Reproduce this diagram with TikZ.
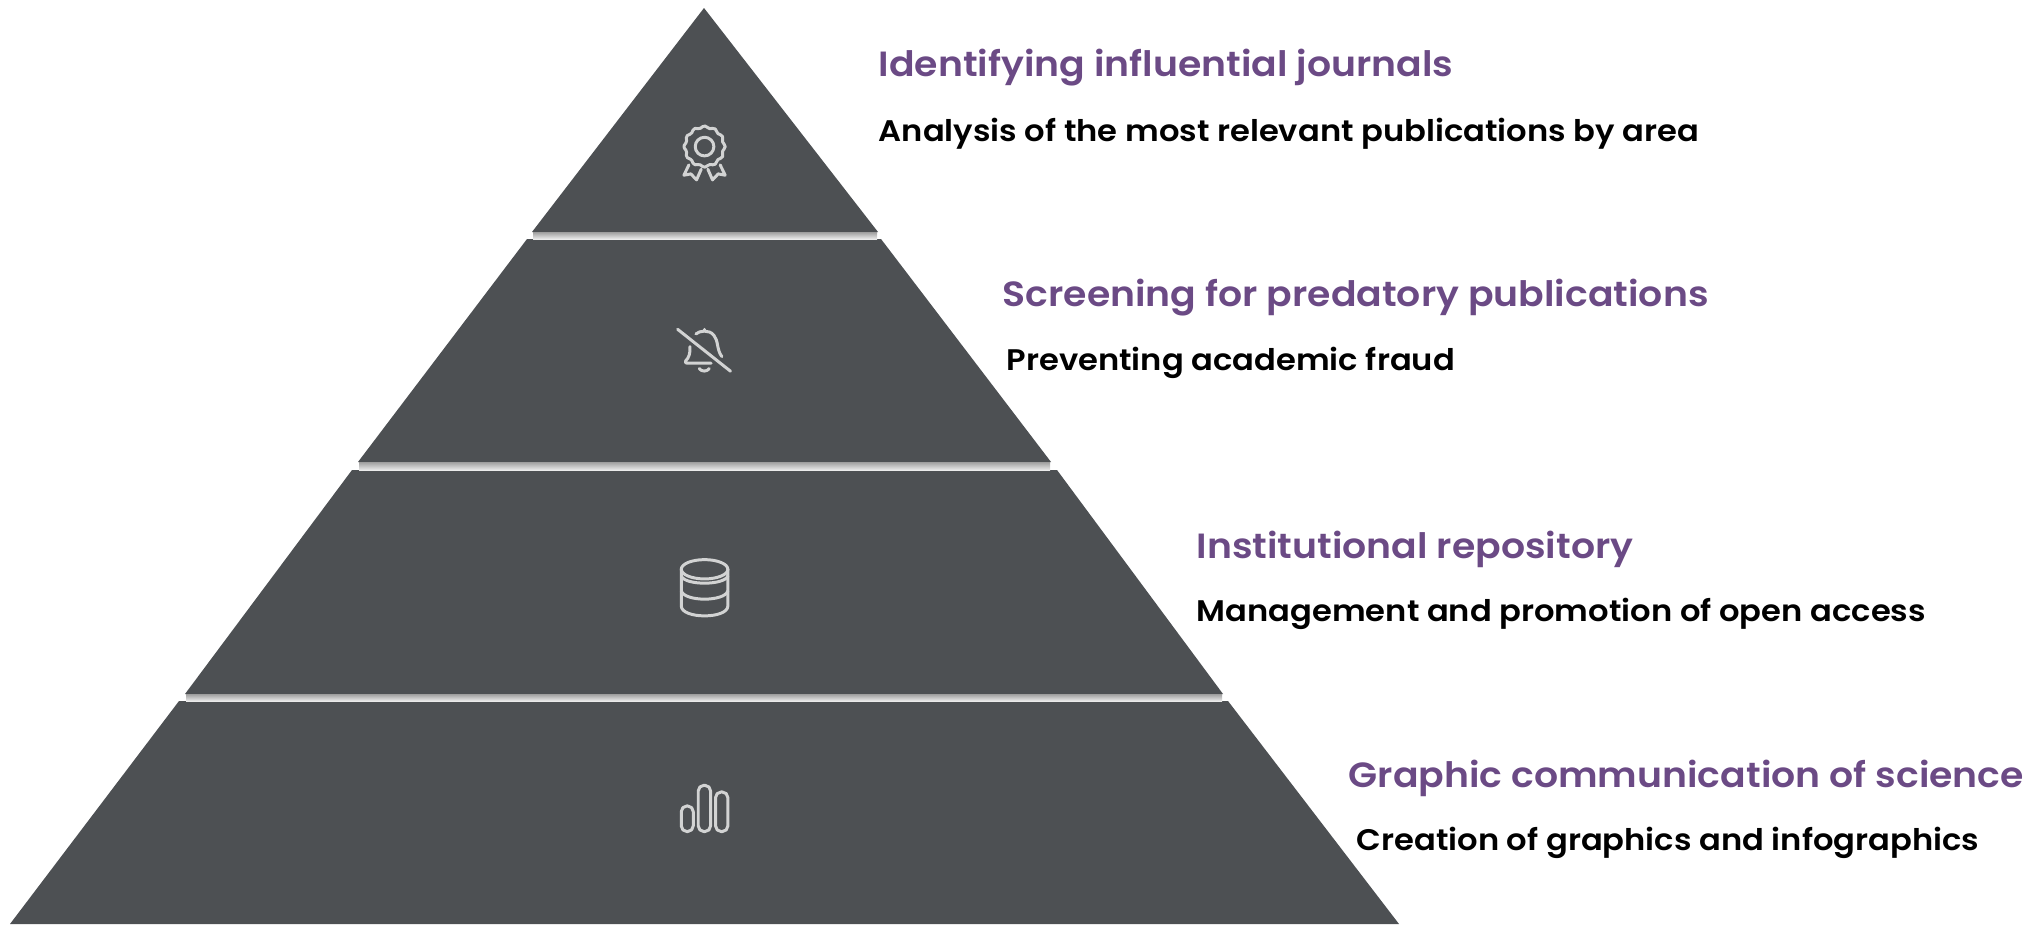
\documentclass[tikz,border=0pt]{standalone}
\usepackage{fontspec}
\setmainfont{Poppins}[UprightFont=* Medium,BoldFont=* SemiBold,FakeStretch=1.08]
\definecolor{slab}{HTML}{4D5053}
\definecolor{head}{HTML}{6B4A85}
\definecolor{glyph}{HTML}{D2D3D3}
\tikzset{
	layer/.style={fill=slab,draw=none},
	gap/.style={top color=black!38,bottom color=black!8,draw=none},
	title/.style={anchor=base west,inner sep=0pt,text=head,font=\fontsize{9.95pt}{12pt}\selectfont\bfseries},
	desc/.style={anchor=base west,inner sep=0pt,text=black,font=\fontsize{8.47pt}{10pt}\selectfont\bfseries},
	icon/.style={draw=glyph,line width=0.85pt,line cap=round,line join=round,x=0.00333cm,y=-0.00333cm}
}

\begin{document}
\begin{tikzpicture}[x=0.01cm,y=-0.01cm]
	\useasboundingbox (0,0) rectangle (2025,924);
	% layers
	\fill[layer] (704,8) -- (878,232) -- (532,232) -- cycle;
	\fill[layer] (881,239) -- (1051,462) -- (358,462) -- (527,239) -- cycle;
	\fill[layer] (1057,470) -- (1223,694) -- (185,694) -- (352,470) -- cycle;
	\fill[layer] (1228,701) -- (1399,924) -- (10,924) -- (179,701) -- cycle;
	% gaps
	\shade[gap] (533,232) rectangle (877,239);
	\shade[gap] (359,462) rectangle (1050,470);
	\shade[gap] (186,694) rectangle (1222,701);
	% texts
	\node[title] (t1) at (878,77) {Identifying influential journals};
	\node[desc] (d1) at (878,141) {Analysis of the most relevant publications by area};
	\node[title] (t2) at (1002,306) {Screening for predatory publications};
	\node[desc] (d2) at (1006,370) {Preventing academic fraud};
	\node[title] (t3) at (1196,558) {Institutional repository};
	\node[desc] (d3) at (1196,621) {Management and promotion of open access};
	\node[title] (t4) at (1348,787) {Graphic communication of science};
	\node[desc] (d4) at (1356,850) {Creation of graphics and infographics};
	% icons
	\begin{scope}[shift={(620,100)}]
		\draw[icon] plot[smooth cycle,samples=49,domain=0:352.5] ({254+(59+3*cos(12*\x))*cos(\x)},{140+(59+3*cos(12*\x))*sin(\x)});
		\draw[icon] (254,140) circle (28);
		\draw[icon] (207,195) -- (192,226) -- (213,222) -- (230,240) -- (244,208);
		\draw[icon] (301,195) -- (316,226) -- (295,222) -- (278,240) -- (264,208);
	\end{scope}
	\begin{scope}[shift={(640,300)}]
		\draw[icon] (113,88) -- (272,214);
		\draw[icon] (168,102) .. controls (178,92) and (208,88) .. (222,106) .. controls (236,122) and (230,150) .. (246,170);
		\draw[icon] (150,140) .. controls (152,160) and (146,175) .. (137,183) .. controls (135,188) and (137,190) .. (142,190) -- (214,190);
		\draw[icon] (178,206) .. controls (184,216) and (202,216) .. (208,206);
		\draw[icon] (193,88) -- (193,92);
	\end{scope}
	\begin{scope}[shift={(640,530)}]
		\draw[icon] (194,118) ellipse [x radius=70,y radius=29];
		\draw[icon] (124,118) -- (124,228) .. controls (124,268) and (264,268) .. (264,228) -- (264,118);
		\draw[icon] (124,138) .. controls (134,167) and (254,167) .. (264,138);
		\draw[icon] (124,183) .. controls (134,216) and (254,216) .. (264,183);
	\end{scope}
	\begin{scope}[shift={(640,760)}]
		\draw[icon,rounded corners=1.6pt] (124,138) rectangle (160,215);
		\draw[icon,rounded corners=1.6pt] (175,76) rectangle (212,215);
		\draw[icon,rounded corners=1.6pt] (227,96) rectangle (264,215);
	\end{scope}
\end{tikzpicture}
\end{document}
